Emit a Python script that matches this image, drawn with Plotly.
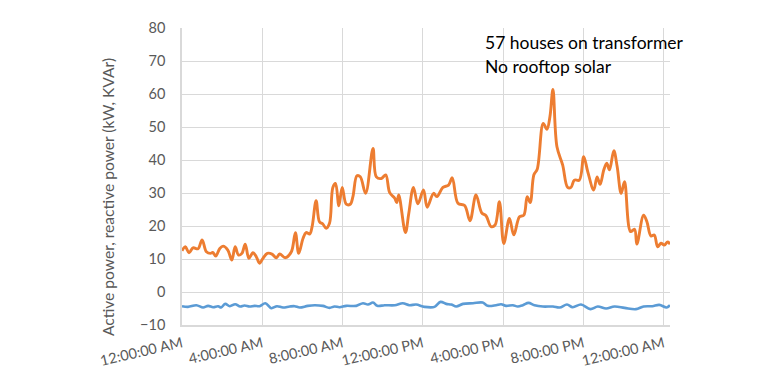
import pandas as pd
import plotly.graph_objects as go

# Active power (orange) - minutes after midnight, kW
active_min = [0, 10, 21, 33, 48, 60, 73, 85, 92, 101, 113, 123, 137, 149, 159, 169, 179, 189,
              200, 212, 222, 232, 242, 255, 269, 282, 292, 309, 327, 339, 349, 362, 371, 382,
              389, 401, 411, 421, 431, 441, 451, 459, 469, 479, 491, 503, 511, 523, 533, 549,
              571, 581, 596, 609, 621, 636, 642, 648, 668, 678, 692, 705, 722, 733, 752, 762,
              780, 797, 808, 825, 845, 861, 879, 896, 909, 924, 936, 949, 962, 979, 992, 1009,
              1022, 1032, 1041, 1052, 1062, 1080, 1091, 1100, 1109, 1121, 1138, 1153, 1163,
              1173, 1188, 1201, 1213, 1231, 1241, 1250, 1261, 1270, 1278, 1291, 1301, 1313,
              1323, 1341, 1353, 1360, 1380, 1390, 1402, 1412, 1422, 1432, 1442, 1452, 1459]
active_kw = [12.5, 13.7, 11.9, 13.4, 13.1, 15.8, 12.2, 11.7, 12.0, 10.9, 13.2, 13.9, 12.7, 9.7,
             13.7, 11.2, 11.7, 14.5, 10.2, 11.9, 10.7, 8.7, 10.2, 11.7, 11.5, 10.4, 11.5, 10.4,
             12.2, 18.0, 11.7, 16.3, 18.0, 17.6, 19.8, 27.7, 21.3, 20.6, 19.3, 20.8, 31.7, 32.9,
             26.1, 31.7, 26.6, 26.6, 28.9, 35.2, 34.9, 29.9, 43.5, 34.9, 34.4, 35.5, 30.1, 28.4,
             27.1, 29.4, 18.0, 23.8, 31.7, 26.7, 30.9, 25.7, 29.9, 28.9, 31.7, 32.4, 34.6, 26.9,
             26.2, 21.6, 29.4, 24.0, 23.1, 19.8, 20.3, 27.4, 14.7, 22.3, 17.3, 22.8, 23.3, 28.9,
             27.1, 35.5, 37.2, 51.1, 49.3, 53.1, 61.4, 44.0, 38.5, 31.7, 31.7, 33.9, 33.9, 41.0,
             36.5, 30.9, 34.9, 32.6, 37.0, 39.0, 37.0, 42.8, 38.0, 29.9, 33.4, 18.3, 19.0, 14.5,
             23.3, 21.3, 17.0, 17.3, 13.7, 14.8, 14.2, 15.2, 14.5]

# Reactive power (blue) - minutes after midnight, kVAr
reactive_min = [0, 18, 43, 63, 78, 93, 108, 117, 129, 143, 159, 174, 187, 202, 217, 232, 249,
                267, 284, 302, 322, 337, 352, 376, 397, 421, 441, 456, 471, 491, 521, 541, 556,
                571, 584, 606, 636, 660, 680, 700, 725, 755, 773, 790, 805, 820, 840, 870, 899,
                914, 939, 954, 969, 989, 1004, 1019, 1036, 1054, 1079, 1109, 1129, 1151, 1168,
                1193, 1221, 1243, 1268, 1293, 1323, 1357, 1380, 1406, 1427, 1449, 1459]
reactive_kvar = [-4.3, -4.5, -4.0, -4.7, -4.2, -4.6, -4.3, -4.7, -3.6, -4.3, -3.7, -4.4, -4.1,
                 -4.4, -4.2, -4.3, -3.4, -4.9, -4.3, -4.7, -4.4, -4.3, -4.7, -4.2, -4.0, -4.2,
                 -4.8, -4.4, -4.6, -4.2, -4.2, -3.4, -3.8, -3.2, -4.2, -4.0, -4.0, -3.4, -4.0,
                 -3.8, -4.5, -4.5, -3.0, -3.6, -3.8, -4.4, -3.6, -3.4, -3.2, -4.2, -4.0, -3.7,
                 -4.2, -4.0, -4.4, -4.0, -3.3, -4.0, -4.4, -4.4, -4.7, -3.8, -4.6, -3.8, -5.2,
                 -4.4, -5.0, -4.4, -4.8, -5.2, -4.4, -4.3, -3.9, -4.7, -4.0]

y_title = "Active power, reactive power (kW, KVAr)"
note_lines = ["57 houses on transformer", "No rooftop solar"]

base = pd.Timestamp("2020-01-01 00:00:00")
tx_a = [base + pd.Timedelta(minutes=m) for m in active_min]
tx_r = [base + pd.Timedelta(minutes=m) for m in reactive_min]

FONT = "Lato, 'Open Sans', sans-serif"
GRID = "#D9D9D9"

fig = go.Figure()
fig.add_trace(go.Scatter(x=tx_r, y=reactive_kvar, mode="lines",
                         line=dict(color="#5B9BD5", width=2.6, shape="spline", smoothing=1),
                         name="Reactive power", showlegend=False))
fig.add_trace(go.Scatter(x=tx_a, y=active_kw, mode="lines",
                         line=dict(color="#ED7D31", width=2.9, shape="spline", smoothing=1),
                         name="Active power", showlegend=False))

# page body has an 8px margin, so the figure is drawn 8px in from the corner
fig.update_layout(
    width=760, height=372,
    margin=dict(l=174, r=98, t=20, b=55),
    paper_bgcolor="white", plot_bgcolor="white",
    font=dict(family=FONT, color="#595959", size=14),
    xaxis=dict(
        type="date",
        range=[tx_a[0], tx_a[-1]],
        tick0=base, dtick=4 * 3600 * 1000,
        tickformat="%-I:%M:%S %p",
        tickangle=-13,
        automargin=False,
        showgrid=True, gridcolor=GRID, gridwidth=1,
        showline=True, linecolor=GRID, linewidth=1.5,
        ticks="", ticklabelstandoff=3,
        tickfont=dict(size=14.5, color="#595959"),
        zeroline=False,
    ),
    yaxis=dict(
        range=[-10, 80], dtick=10, tick0=0,
        automargin=False,
        showgrid=True, gridcolor=GRID, gridwidth=1,
        showline=True, linecolor=GRID, linewidth=1.5,
        zeroline=False,
        ticks="", ticklabelstandoff=12,
        tickfont=dict(size=14.5, color="#595959"),
    ),
)

# y-axis title, placed like the original (centred a little below the plot middle)
fig.add_annotation(text=y_title, xref="paper", yref="paper", x=-0.152, y=0.43,
                   xanchor="center", yanchor="middle", textangle=-90, showarrow=False,
                   font=dict(family=FONT, size=15.6, color="#595959"))

for txt, yp in zip(note_lines, [0.9495, 0.8687]):
    fig.add_annotation(text=txt, xref="paper", yref="paper", x=0.617, y=yp,
                       xanchor="left", yanchor="middle", showarrow=False,
                       font=dict(family=FONT, size=17.5, color="#000000"))

fig.write_html("out.html")
